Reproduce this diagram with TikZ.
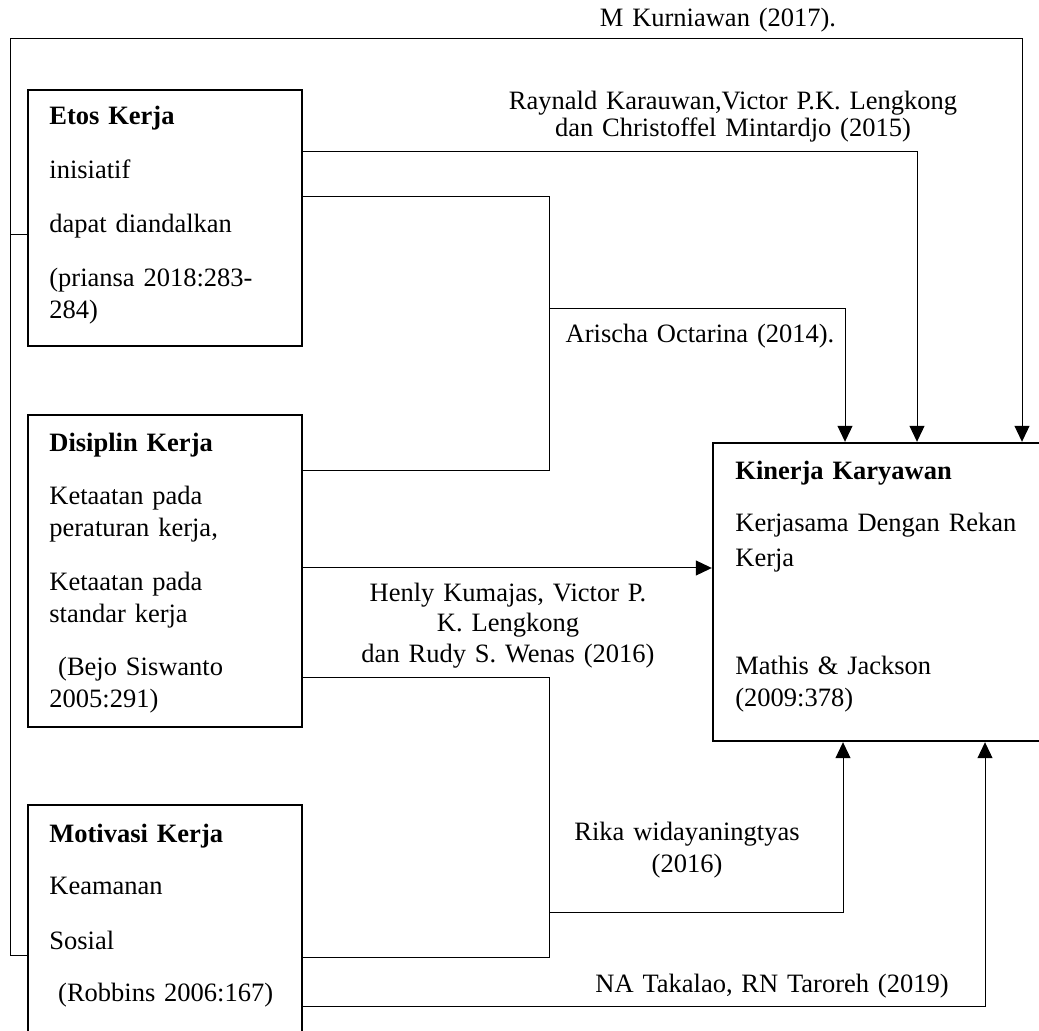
\documentclass[tikz,border=0pt]{standalone}
\usepackage{fontspec}
\setmainfont{Liberation Serif}
\usetikzlibrary{arrows.meta}

\begin{document}
\begin{tikzpicture}[x=0.5pt, y=-0.5pt,
    font=\fontsize{13.25}{16}\selectfont,
    box/.style={draw, line width=1.2pt, inner sep=0pt},
    txt/.style={anchor=base west, inner sep=0pt, text width=135pt, align=left},
    lbl/.style={anchor=base, inner sep=0pt, text width=260pt, align=center},
    link/.style={line width=0.5pt},
    arr/.style={-{Triangle[length=8pt, width=7.5pt]}}]
    \useasboundingbox (0,0) rectangle (1039,1031);

    % Boxes
    \node[box, minimum width=137pt, minimum height=128pt] (etos) at (165,218) {};
    \node[box, minimum width=137pt, minimum height=156pt] (disi) at (165,571) {};
    \node[box, minimum width=137pt, minimum height=120pt] (moti) at (165,925) {};
    \node[box, minimum width=180pt, minimum height=149pt] (kin) at (893,592) {};

    % Box texts
    \node[txt] (etostxt) at (49,125) {\textbf{Etos Kerja}\\[11pt]
        inisiatif\\[11pt] dapat diandalkan\\[11pt] (priansa 2018:283-\\284)};
    \node[txt] (disitxt) at (49,452) {\textbf{Disiplin Kerja}\\[10.5pt]
        Ketaatan pada\\peraturan kerja,\\[11pt] Ketaatan pada\\standar kerja\\[10.5pt]
        \ (Bejo Siswanto\\2005:291)};
    \node[txt] (motitxt) at (49,842) {\textbf{Motivasi Kerja}\\[10pt]
        Keamanan\\[11.5pt] Sosial\\[10pt] \ (Robbins 2006:167)};
    \node[txt, text width=155pt] (kintxt) at (735,480) {\textbf{Kinerja Karyawan}\\[10pt]
        Kerjasama Dengan Rekan\\[1.5pt] Kerja\\[38pt] Mathis \& Jackson\\(2009:378)};

    % Junctions
    \coordinate (lt) at (10,39);
    \coordinate (jd) at (549,471);
    \coordinate (ja) at (549,309);
    \coordinate (jm) at (549,957);
    \coordinate (jr) at (549,912);

    % Connectors
    \draw[link, arr] (moti.west |- 0,955) -| (lt) -| (kin.north -| 1022,0);
    \draw[link] (etos.west |- 0,235) -- (lt |- 0,235);
    \draw[link, arr] (etos.east |- 0,152) -| (kin.north -| 917,0);
    \draw[link] (etos.east |- 0,197) -| (jd) -- (disi.east |- jd);
    \draw[link, arr] (ja) -| (kin.north -| 845,0);
    \draw[link, arr] (disi.east |- 0,568) -- (kin.west |- 0,568);
    \draw[link] (disi.east |- 0,678) -| (jm) -- (moti.east |- jm);
    \draw[link, arr] (jr) -| (kin.south -| 843,0);
    \draw[link, arr] (moti.east |- 0,1006) -| (kin.south -| 985,0);

    % Labels
    \node[lbl] (kurni) at (718,27) {M Kurniawan (2017).};
    \node[lbl] (rayn) at (733,110) {Raynald Karauwan,Victor P.K. Lengkong\\[-2.5pt]
        dan Christoffel Mintardjo (2015)};
    \node[lbl] (aris) at (700,343) {Arischa Octarina (2014).};
    \node[lbl] (henly) at (508,602) {Henly Kumajas, Victor P.\\[-1pt] K. Lengkong\\[-0.5pt]
        dan Rudy S. Wenas (2016)};
    \node[lbl] (rika) at (687,840) {Rika widayaningtyas\\(2016)};
    \node[lbl] (taka) at (772,992) {NA Takalao, RN Taroreh (2019)};
\end{tikzpicture}
\end{document}
